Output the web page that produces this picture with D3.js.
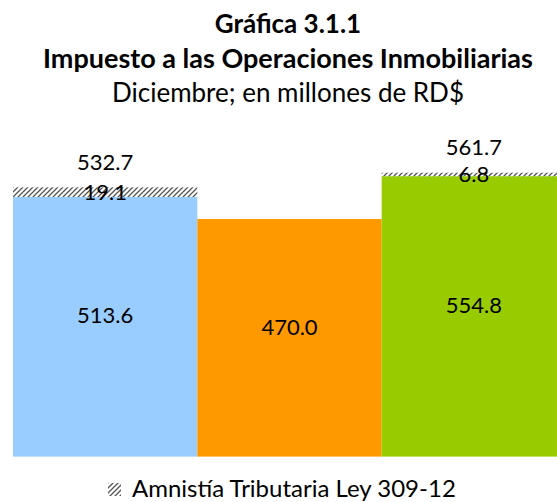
<!DOCTYPE html>
<html>
<head>
<meta charset="utf-8">
<script src="https://cdn.jsdelivr.net/npm/d3@7"></script>
<style>
  html, body { margin: 0; padding: 0; background: #fff; }
  svg { display: block; font-family: Lato, "Open Sans", sans-serif; }
</style>
</head>
<body>
<svg id="chart" width="557" height="502"></svg>
<script>
// Data
const categories = ["Dic 2012", "Dic 2013", "Dic 2014"];
const baseValues = [513.6, 470.0, 554.8];
const amnistiaValues = [19.1, null, 6.8];
const totalValues = [532.7, null, 561.7];
const colors = ["#99CCFF", "#FF9900", "#99CC00"];
const titleLines = ["Gráfica 3.1.1", "Impuesto a las Operaciones Inmobiliarias", "Diciembre; en millones de RD$"];
const legendLabel = "Amnistía Tributaria Ley 309-12";

const svg = d3.select("#chart");

// Hatch pattern
const defs = svg.append("defs");
const pat = defs.append("pattern")
  .attr("id", "hatch")
  .attr("patternUnits", "userSpaceOnUse")
  .attr("width", 5)
  .attr("height", 5);
pat.append("rect").attr("width", 5).attr("height", 5).attr("fill", "#fff");
pat.append("path")
  .attr("d", "M-1,1 L1,-1 M0,5 L5,0 M4,6 L6,4")
  .attr("stroke", "#555")
  .attr("stroke-width", 1.3);

// Scales
const x = d3.scaleBand().domain(categories).range([13, 566]).padding(0);
const y = d3.scaleLinear().domain([0, 600]).range([456.6, 153.3]);

const rows = categories.map((c, i) => ({
  cat: c, base: baseValues[i], amn: amnistiaValues[i], total: totalValues[i], color: colors[i]
}));

// Titles
const titleY = [33, 68, 102];
const titleSize = [26, 27, 26];
svg.selectAll("text.title")
  .data(titleLines)
  .join("text")
  .attr("class", "title")
  .attr("x", 288)
  .attr("y", (d, i) => titleY[i])
  .attr("text-anchor", "middle")
  .attr("font-size", (d, i) => titleSize[i])
  .attr("font-weight", (d, i) => i < 2 ? "bold" : "normal")
  .attr("fill", "#000")
  .text(d => d);

// Base bars
svg.selectAll("rect.base")
  .data(rows)
  .join("rect")
  .attr("class", "base")
  .attr("x", d => x(d.cat))
  .attr("width", x.bandwidth())
  .attr("y", d => y(d.base))
  .attr("height", d => y(0) - y(d.base))
  .attr("fill", d => d.color);

// Amnistia segments
const amnRows = rows.filter(d => d.amn != null);
svg.selectAll("rect.amn")
  .data(amnRows)
  .join("rect")
  .attr("class", "amn")
  .attr("x", d => x(d.cat))
  .attr("width", x.bandwidth())
  .attr("y", d => y(d.base + d.amn))
  .attr("height", d => y(d.base) - y(d.base + d.amn))
  .attr("fill", "url(#hatch)");

// Labels
const labelSize = 22;
svg.selectAll("text.base-lbl")
  .data(rows)
  .join("text")
  .attr("class", "base-lbl")
  .attr("x", d => x(d.cat) + x.bandwidth() / 2)
  .attr("y", d => (y(0) + y(d.base)) / 2 - 11)
  .attr("dy", "0.35em")
  .attr("text-anchor", "middle")
  .attr("font-size", labelSize)
  .text(d => d.base.toFixed(1));

svg.selectAll("text.amn-lbl")
  .data(amnRows)
  .join("text")
  .attr("class", "amn-lbl")
  .attr("x", d => x(d.cat) + x.bandwidth() / 2)
  .attr("y", d => (y(d.base) + y(d.base + d.amn)) / 2)
  .attr("dy", "0.35em")
  .attr("text-anchor", "middle")
  .attr("font-size", labelSize)
  .text(d => d.amn.toFixed(1));

svg.selectAll("text.tot-lbl")
  .data(amnRows)
  .join("text")
  .attr("class", "tot-lbl")
  .attr("x", d => x(d.cat) + x.bandwidth() / 2)
  .attr("y", d => y(d.total) - 25)
  .attr("dy", "0.35em")
  .attr("text-anchor", "middle")
  .attr("font-size", labelSize)
  .text(d => d.total.toFixed(1));

// Legend
const legend = svg.append("g").attr("transform", "translate(108,483)");
legend.append("rect")
  .attr("width", 13).attr("height", 13)
  .attr("fill", "url(#hatch)");
legend.append("text")
  .attr("x", 24)
  .attr("y", 14)
  .attr("font-size", 24)
  .text(legendLabel);
</script>
</body>
</html>
